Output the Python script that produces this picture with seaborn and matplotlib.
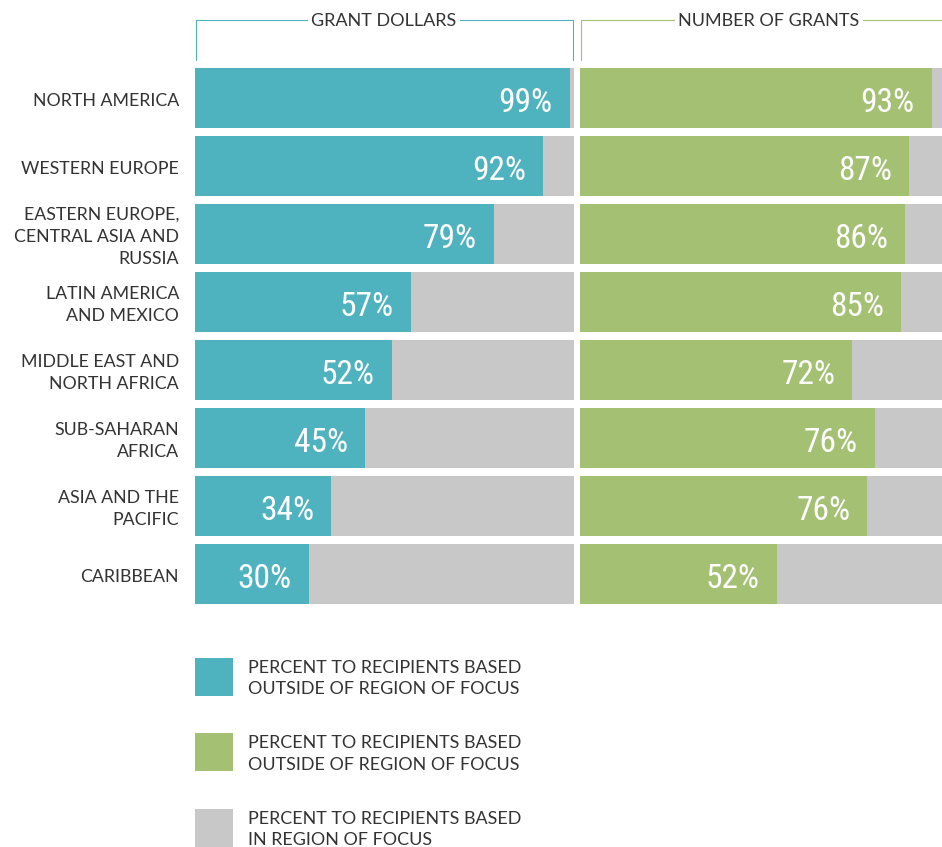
import matplotlib
matplotlib.use("Agg")
import matplotlib.pyplot as plt
from matplotlib.patches import Rectangle
import seaborn as sns
import pandas as pd

# ---------------- data ----------------
regions = [
    "NORTH AMERICA",
    "WESTERN EUROPE",
    "EASTERN EUROPE,\nCENTRAL ASIA AND\nRUSSIA",
    "LATIN AMERICA\nAND MEXICO",
    "MIDDLE EAST AND\nNORTH AFRICA",
    "SUB-SAHARAN\nAFRICA",
    "ASIA AND THE\nPACIFIC",
    "CARIBBEAN",
]
dollars_pct = [99, 92, 79, 57, 52, 45, 36, 30]
dollars_labels = ["99%", "92%", "79%", "57%", "52%", "45%", "34%", "30%"]
grants_pct = [93, 87, 86, 85, 72, 78, 76, 52]
grants_labels = ["93%", "87%", "86%", "85%", "72%", "76%", "76%", "52%"]
total_pct = [100] * len(regions)
panel_titles = ["GRANT DOLLARS", "NUMBER OF GRANTS"]
legend_labels = [
    "PERCENT TO RECIPIENTS BASED\nOUTSIDE OF REGION OF FOCUS",
    "PERCENT TO RECIPIENTS BASED\nOUTSIDE OF REGION OF FOCUS",
    "PERCENT TO RECIPIENTS BASED\nIN REGION OF FOCUS",
]

# ---------------- style ----------------
TEAL = "#4FB3BF"
GREEN = "#A3C073"
GRAY = "#C8C8C8"
TXT = "#333333"

sns.set_theme(style="white")
plt.rcParams["font.family"] = ["Lato", "DejaVu Sans"]
NUM_FONT = ["Roboto Condensed", "Liberation Sans Narrow", "Roboto", "DejaVu Sans"]

W, H = 942, 847
fig = plt.figure(figsize=(W / 100, H / 100), dpi=100)


def rect(x0, x1, y0, y1):
    return [x0 / W, 1 - y1 / H, (x1 - x0) / W, (y1 - y0) / H]


df = pd.DataFrame({
    "region": regions,
    "dollars": dollars_pct,
    "grants": grants_pct,
    "total": total_pct,
})

panels = [
    ("dollars", dollars_labels, TEAL, rect(195, 573.5, 64, 608)),
    ("grants", grants_labels, GREEN, rect(580, 958, 64, 608)),
]
for col, labs, color, r in panels:
    ax = fig.add_axes(r)
    sns.barplot(data=df, x="total", y="region", color=GRAY, width=0.882,
                saturation=1, linewidth=0, ax=ax)
    sns.barplot(data=df, x=col, y="region", color=color, width=0.882,
                saturation=1, linewidth=0, ax=ax)
    ax.set_xlim(0, 100)
    ax.set_ylim(len(regions) - 0.5, -0.5)
    ax.axis("off")
    for i, (v, lab) in enumerate(zip(df[col], labs)):
        ax.annotate(lab, xy=(v, i), xytext=(-17, -14), textcoords="offset pixels",
                    ha="right", va="baseline", color="white", fontsize=24,
                    family=NUM_FONT, fontstretch="condensed")

# ---------------- overlay: headers, row labels, legend ----------------
ov = fig.add_axes([0, 0, 1, 1], zorder=5)
ov.set_xlim(0, W)
ov.set_ylim(H, 0)
ov.axis("off")
ov.patch.set_alpha(0)

# brackets
ov.plot([195.5, 195.5, 573, 573], [60, 20, 20, 60], color=TEAL, lw=0.8)
ov.plot([580.5, 580.5, 960], [60, 20, 20], color=GREEN, lw=0.8)
for cx, t in zip([384, 769], panel_titles):
    ov.text(cx, 26.5, t, ha="center", va="baseline", fontsize=13, color=TXT,
            bbox=dict(fc="white", ec="none", pad=2.5))

# row labels
for i, lab in enumerate(regions):
    lines = lab.split("\n")
    n = len(lines)
    c = 98 + 68 * i
    for k, ln in enumerate(lines):
        y = c - (n - 1) * 22 / 2 + k * 22 + 8
        ov.text(179, y, ln, ha="right", va="baseline", fontsize=12.8, color=TXT)

# legend
for j, (lab, col) in enumerate(zip(legend_labels, [TEAL, GREEN, GRAY])):
    y0 = 658 + 75.5 * j
    ov.add_patch(Rectangle((195, y0), 38, 38, color=col, lw=0))
    for k, ln in enumerate(lab.split("\n")):
        ov.text(248, y0 + 15 + 21 * k, ln, ha="left", va="baseline",
                fontsize=12.9, color=TXT)

fig.savefig("out.png", dpi=100)
